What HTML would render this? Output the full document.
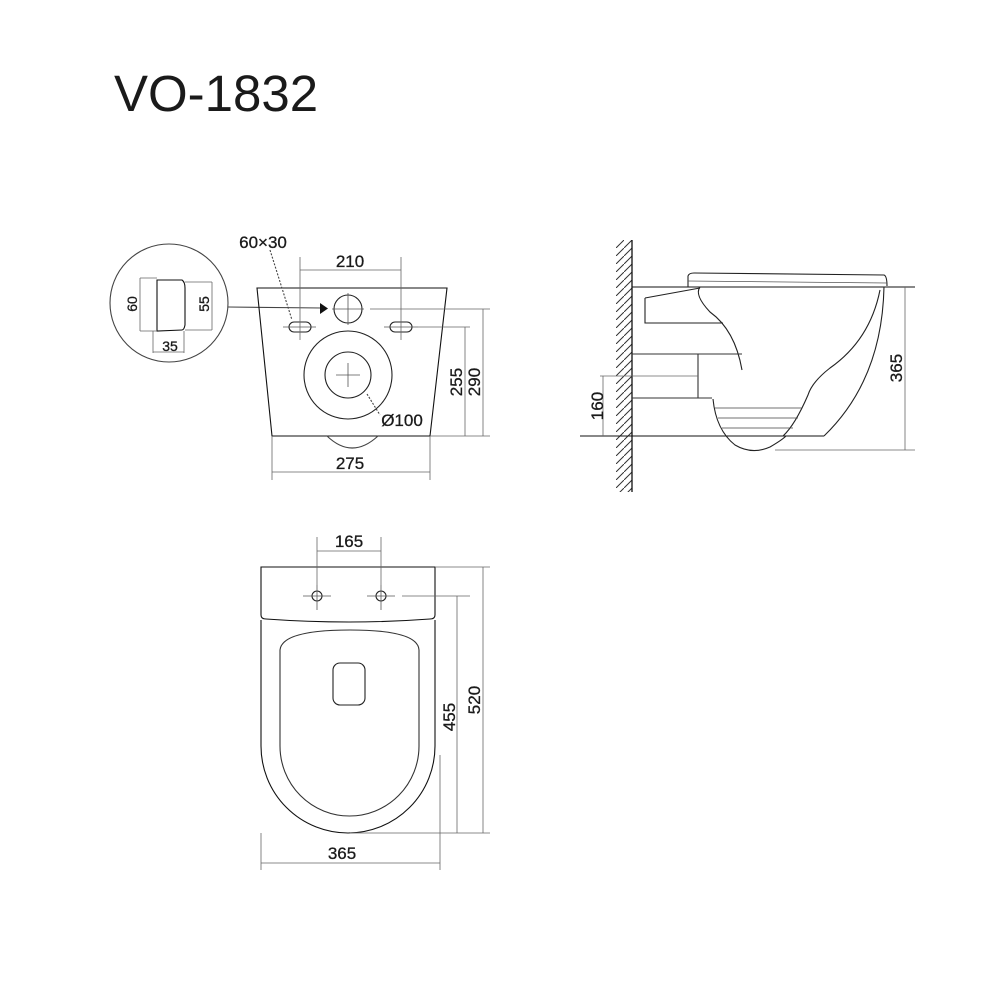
<!DOCTYPE html>
<html><head><meta charset="utf-8"><style>
html,body{margin:0;padding:0;background:#fff}
svg{display:block}
text{font-family:"Liberation Sans",Arial,sans-serif;fill:#1a1a1a;stroke:#1a1a1a;stroke-width:0.3}
</style></head><body>
<svg width="1000" height="1000" viewBox="0 0 1000 1000" xmlns="http://www.w3.org/2000/svg">
<defs>
<pattern id="h" width="8" height="8" patternUnits="userSpaceOnUse">
<path d="M-1,9 L9,-1" stroke="#333" stroke-width="1"/>
</pattern>
</defs>
<text x="114" y="111" font-size="51" style="stroke-width:0">VO-1832</text>

<g fill="none" stroke="#222" stroke-width="1.1">
<!-- inset -->
<circle cx="169" cy="303" r="59" stroke="#444"/>
<path d="M157,280 L182,280 Q185,282 185,288 L185,325 Q184,330 182,330 L157,331 Z" stroke="#111"/>
<path d="M140,278 L157,278 M140,331 L157,331 M140,278 L140,331" stroke="#666" stroke-width="0.8"/>
<path d="M185,282 L212,282 M185,330 L212,330 M212,282 L212,330" stroke="#666" stroke-width="0.8"/>
<path d="M153,331 L153,353 M184,331 L184,353 M153,352 L184,352" stroke="#666" stroke-width="0.8"/>
<path d="M228,307 L322,308" stroke="#444"/>
<!-- front view -->
<path d="M257,288 L447,288 L430,436 L272,436 Z" stroke="#111"/>
<circle cx="348" cy="309" r="14"/>
<path d="M348,293 V325 M332,309 H364" stroke="#555" stroke-width="0.8"/>
<rect x="289" y="322" width="22" height="10" rx="5"/>
<rect x="390" y="322" width="22" height="10" rx="5"/>
<path d="M283,327 H316 M384,327 H418" stroke="#555" stroke-width="0.8"/>
<circle cx="348" cy="375" r="44"/>
<circle cx="348" cy="375" r="23"/>
<path d="M348,363 V387 M336,375 H360" stroke="#555" stroke-width="0.8"/>
<path d="M327,436 Q352,460 378,436" stroke="#444"/>
<path d="M300,257 V340 M401,257 V340 M300,270 H401" stroke="#666" stroke-width="0.8"/>
<path d="M370,309 H490 M418,327 H470 M430,436 H490 M465,327 V436 M483,309 V436" stroke="#666" stroke-width="0.8"/>
<path d="M272,436 V480 M430,436 V480 M272,472 H430" stroke="#666" stroke-width="0.8"/>
<path d="M270,250 L292,320" stroke="#444" stroke-dasharray="2,1.5"/>
<path d="M367,394 L380,415" stroke="#444" stroke-dasharray="2,1.5"/>
</g>
<path d="M320,303 L328,308.5 L320,314 Z" fill="#111"/>
<text x="263" y="248" font-size="17" text-anchor="middle">60×30</text>
<text x="350" y="267" font-size="17" text-anchor="middle">210</text>
<text x="402" y="426" font-size="17" text-anchor="middle">Ø100</text>
<text x="350" y="469" font-size="17" text-anchor="middle">275</text>
<text transform="translate(462,382) rotate(-90)" font-size="17" text-anchor="middle">255</text>
<text transform="translate(480,382) rotate(-90)" font-size="17" text-anchor="middle">290</text>
<text transform="translate(137,304) rotate(-90)" font-size="14" text-anchor="middle">60</text>
<text transform="translate(209,304) rotate(-90)" font-size="14" text-anchor="middle">55</text>
<text x="170" y="351" font-size="14" text-anchor="middle">35</text>

<!-- side view -->
<rect x="616" y="240" width="16" height="252" fill="url(#h)"/>
<g fill="none" stroke="#222" stroke-width="1.1">
<path d="M632,240 V492" stroke="#111" stroke-width="1.3"/>
<path d="M632,287 H915" stroke="#111"/>
<path d="M688,287 L688,276 Q689,273 694,273 L884,275 Q887,276 887,286"/>
<path d="M688,281 L887,283" stroke="#555" stroke-width="0.8"/>
<path d="M580,436 H824" stroke="#111"/>
<path d="M884,287 Q882,380 824,436"/>
<path d="M880,290 Q870,340 830,368 Q812,382 808,395 Q795,425 783,436"/>
<path d="M713,399 Q716,430 735,445 Q752,455 770,447 Q782,440 786,436"/>
<path d="M700,287 Q694,295 710,312 Q735,330 742,370"/>
<path d="M645,298 L700,288 M645,298 V323 H723"/>
<path d="M632,354 H742 M632,398 H712 M698,354 V398" stroke="#333"/>
<path d="M600,376 H698" stroke="#666" stroke-width="0.8"/>
<path d="M603,376 V436" stroke="#666" stroke-width="0.8"/>
<path d="M715,408 H802 M718,418 H798 M722,428 H793" stroke="#444" stroke-width="0.8"/>
<path d="M775,450 H915 M905,287 V450" stroke="#666" stroke-width="0.8"/>
</g>
<text transform="translate(603,406) rotate(-90)" font-size="17" text-anchor="middle">160</text>
<text transform="translate(902,368) rotate(-90)" font-size="17" text-anchor="middle">365</text>

<!-- top view -->
<g fill="none" stroke="#222" stroke-width="1.1">
<path d="M261,567 H435 V615 Q435,619 430,619 Q350,625 266,619 Q261,619 261,615 Z" stroke="#111"/>
<path d="M261,620 V746 A87,87 0 0 0 435,746 V620" stroke="#111"/>
<path d="M280,650 Q282,630 350,630 Q418,630 419,650 L419,746 A69.5,70 0 0 1 280,746 Z" stroke="#333"/>
<rect x="333" y="663" width="32" height="42" rx="7"/>
<circle cx="317" cy="596" r="5"/><circle cx="381" cy="596" r="5"/>
<path d="M303,596 H331 M367,596 H395 M317,585 V610 M381,585 V610" stroke="#555" stroke-width="0.8"/>
<path d="M317,537 V585 M381,537 V585 M317,551 H381" stroke="#666" stroke-width="0.8"/>
<path d="M435,567 H490 M350,833 H490 M483,567 V833 M402,596 H470 M457,596 V833" stroke="#666" stroke-width="0.8"/>
<path d="M261,833 V870 M440,755 V870 M261,863 H440" stroke="#666" stroke-width="0.8"/>
</g>
<text x="349" y="547" font-size="17" text-anchor="middle">165</text>
<text transform="translate(480,700) rotate(-90)" font-size="17" text-anchor="middle">520</text>
<text transform="translate(455,717) rotate(-90)" font-size="17" text-anchor="middle">455</text>
<text x="342" y="859" font-size="17" text-anchor="middle">365</text>
</svg>
</body></html>
